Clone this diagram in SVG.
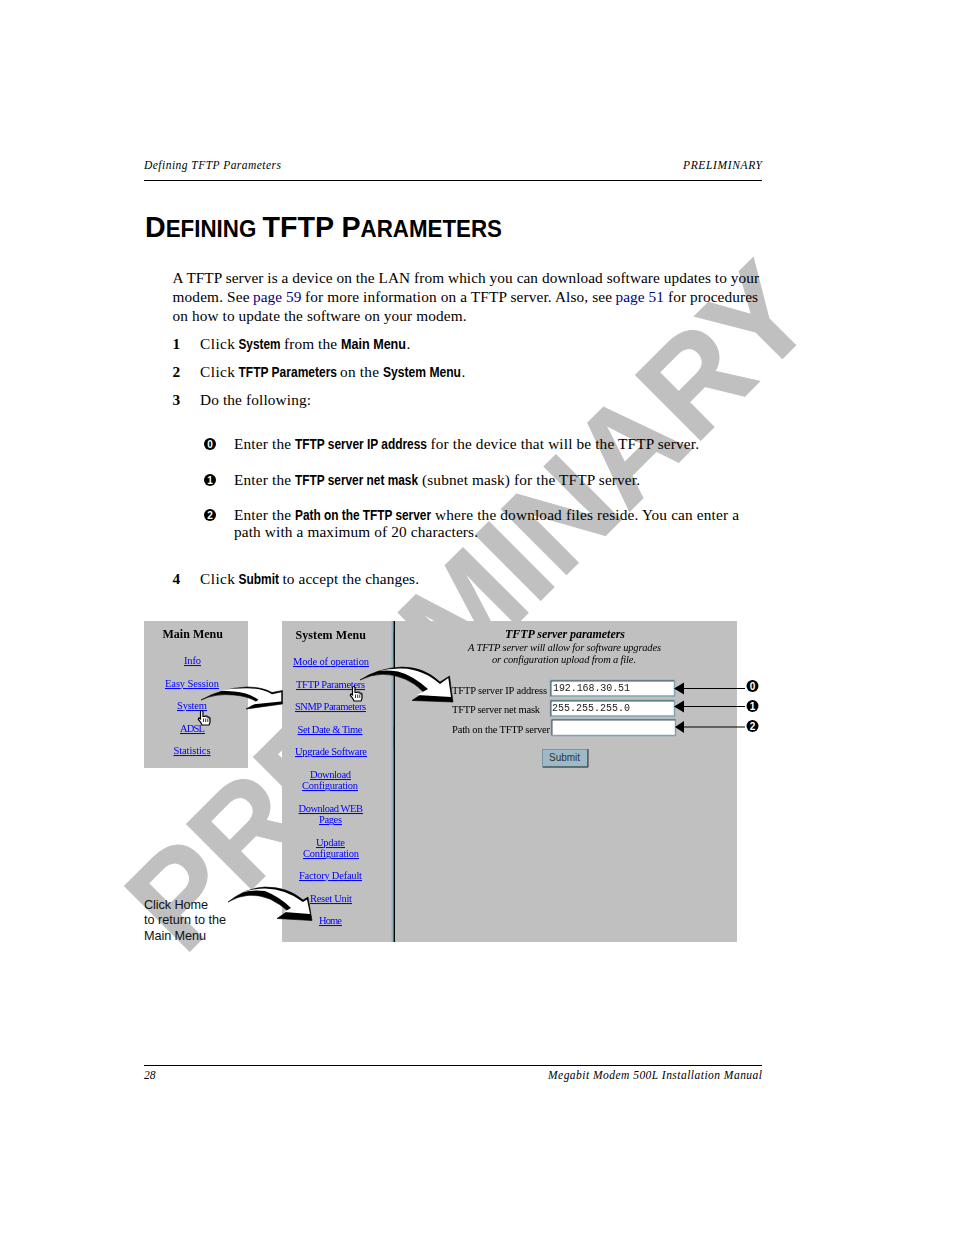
<svg xmlns="http://www.w3.org/2000/svg" width="954" height="1235" viewBox="0 0 954 1235">
<style>
text{white-space:pre}
.b{font:15.3px "Liberation Serif",serif;fill:#000}
.bn{font:bold 15.3px "Liberation Serif",serif;fill:#000}
.n{font:bold 11.200px "Liberation Sans",sans-serif;fill:#000}
.i{font:italic 11.5px "Liberation Serif",serif;fill:#000}
.h{font-family:"Liberation Sans",sans-serif;font-weight:bold;fill:#000}
.l{font:10.500px "Liberation Serif",serif;fill:#00f;text-decoration:underline}
.s{font:10.500px "Liberation Serif",serif;fill:#000}
.sh{font:bold 12px "Liberation Serif",serif;fill:#000}
.si{font:italic 10.500px "Liberation Serif",serif;fill:#000}
.sih{font:italic bold 12px "Liberation Serif",serif;fill:#000}
.m{font:10px "Liberation Mono",monospace;fill:#222}
.c{font:12.700px "Liberation Sans",sans-serif;fill:#111}
.d{fill:#000}
.dt{font:bold 10px "Liberation Sans",sans-serif;fill:#fff;text-anchor:middle}
.p{fill:#c0c0c0}
.f{fill:#fff;stroke:#7fa5b5;stroke-width:1.5}
</style>
<defs>
<filter id="soft" x="-5%" y="-5%" width="110%" height="110%"><feGaussianBlur stdDeviation="0.3"/></filter>
<g id="hand">
<path d="M3 1.500Q3 0 4.200 0T5.500 1.500V6H7.500V5.500H9.500V6.500H11.500V7.500H12.500V12L11.500 14.500H4.500L3 11.500L.8 9 1.500 7.500 3 8.500Z" fill="#fff" stroke="#000" stroke-width="1.200"/>
<path d="M6 8V11.500M8.200 8V11.500M10.300 8V11.500" stroke="#000" stroke-width=".8" fill="none"/>
</g>
</defs>
<rect width="954" height="1235" fill="#fff"/>
<g id="watermark"><text transform="translate(183.600 957.400) rotate(-45)" font-family="Liberation Sans, sans-serif" font-weight="bold" font-size="134" fill="#c0c0c0" stroke="#c0c0c0" stroke-width="1" textLength="900" lengthAdjust="spacingAndGlyphs">PRELIMINARY</text></g>
<g id="page-header">
<text class="i" x="144" y="169" textLength="137">Defining TFTP Parameters</text>
<text class="i" x="683" y="169" textLength="79">PRELIMINARY</text>
<rect x="144" y="180" width="618" height="1"/>
</g>
<g id="title"><text class="h" x="145" y="237" font-size="23" textLength="357" lengthAdjust="spacingAndGlyphs"><tspan font-size="29.500">D</tspan>EFINING <tspan font-size="29.500">TFTP P</tspan>ARAMETERS</text></g>
<g id="body">
<text class="b" x="172.500" y="283" textLength="586.500">A TFTP server is a device on the LAN from which you can download software updates to your</text>
<text class="b" x="172.500" y="302" textLength="77">modem. See</text>
<text class="b" x="253" y="302" textLength="48.500" style="fill:#000080">page 59</text>
<text class="b" x="305" y="302" textLength="307">for more information on a TFTP server. Also, see</text>
<text class="b" x="615.500" y="302" textLength="48.500" style="fill:#000080">page 51</text>
<text class="b" x="668" y="302" textLength="90">for procedures</text>
<text class="b" x="172.500" y="321" textLength="294">on how to update the software on your modem.</text>
<text class="bn" x="172.500" y="349">1</text>
<text class="b" x="200" y="349" textLength="35">Click</text>
<text class="n" transform="translate(238.500 349) scale(1 1.3)" textLength="42" lengthAdjust="spacingAndGlyphs">System</text>
<text class="b" x="284" y="349" textLength="53">from the</text>
<text class="n" transform="translate(341 349) scale(1 1.3)" textLength="65" lengthAdjust="spacingAndGlyphs">Main Menu</text>
<text class="b" x="406.500" y="349">.</text>
<text class="bn" x="172.500" y="377">2</text>
<text class="b" x="200" y="377" textLength="35">Click</text>
<text class="n" transform="translate(238.500 377) scale(1 1.3)" textLength="98.500" lengthAdjust="spacingAndGlyphs">TFTP Parameters</text>
<text class="b" x="340" y="377" textLength="39">on the</text>
<text class="n" transform="translate(383 377) scale(1 1.3)" textLength="78" lengthAdjust="spacingAndGlyphs">System Menu</text>
<text class="b" x="461.500" y="377">.</text>
<text class="bn" x="172.500" y="405">3</text>
<text class="b" x="200" y="405" textLength="111">Do the following:</text>
<circle class="d" cx="210" cy="444" r="6"/><text class="dt" x="210" y="447.500">0</text>
<text class="b" x="234" y="449" textLength="57">Enter the</text>
<text class="n" transform="translate(295 449) scale(1 1.3)" textLength="132" lengthAdjust="spacingAndGlyphs">TFTP server IP address</text>
<text class="b" x="430.500" y="449" textLength="268.500">for the device that will be the TFTP server.</text>
<circle class="d" cx="210" cy="480" r="6"/><text class="dt" x="210" y="483.500">1</text>
<text class="b" x="234" y="485" textLength="57">Enter the</text>
<text class="n" transform="translate(295 485) scale(1 1.3)" textLength="123" lengthAdjust="spacingAndGlyphs">TFTP server net mask</text>
<text class="b" x="422" y="485" textLength="218">(subnet mask) for the TFTP server.</text>
<circle class="d" cx="210" cy="515" r="6"/><text class="dt" x="210" y="518.500">2</text>
<text class="b" x="234" y="520" textLength="57">Enter the</text>
<text class="n" transform="translate(295 520) scale(1 1.3)" textLength="136" lengthAdjust="spacingAndGlyphs">Path on the TFTP server</text>
<text class="b" x="435" y="520" textLength="304">where the download files reside. You can enter a</text>
<text class="b" x="234" y="537" textLength="244">path with a maximum of 20 characters.</text>
<text class="bn" x="172.500" y="584">4</text>
<text class="b" x="200" y="584" textLength="35">Click</text>
<text class="n" transform="translate(238.500 584) scale(1 1.3)" textLength="40.500" lengthAdjust="spacingAndGlyphs">Submit</text>
<text class="b" x="282.500" y="584" textLength="136.500">to accept the changes.</text>
</g>
<g id="main-menu">
<rect class="p" x="144" y="621" width="104" height="147"/>
<g filter="url(#soft)">
<text class="sh" x="162.500" y="638" textLength="60.500">Main Menu</text>
<text class="l" x="184" y="664" textLength="17">Info</text>
<text class="l" x="165" y="687" textLength="54">Easy Session</text>
<text class="l" x="177" y="709" textLength="30">System</text>
<text class="l" x="180" y="732" textLength="25">ADSL</text>
<text class="l" x="173.500" y="754" textLength="37">Statistics</text>
</g>
</g>
<g id="system-menu">
<rect class="p" x="282" y="621" width="110" height="321"/>
<g filter="url(#soft)">
<text class="sh" x="295.500" y="639" textLength="70.500">System Menu</text>
<text class="l" x="293" y="665" textLength="76">Mode of operation</text>
<text class="l" x="296" y="688" textLength="69">TFTP Parameters</text>
<text class="l" x="295" y="710" textLength="71">SNMP Parameters</text>
<text class="l" x="297.500" y="733" textLength="65">Set Date &amp; Time</text>
<text class="l" x="295" y="755" textLength="72">Upgrade Software</text>
<text class="l" x="310" y="778" textLength="41">Download</text>
<text class="l" x="302" y="789" textLength="56">Configuration</text>
<text class="l" x="298.500" y="812" textLength="64.500">Download WEB</text>
<text class="l" x="319" y="823" textLength="23">Pages</text>
<text class="l" x="316" y="846" textLength="29">Update</text>
<text class="l" x="303" y="857" textLength="56">Configuration</text>
<text class="l" x="299" y="879" textLength="63">Factory Default</text>
<text class="l" x="310" y="902" textLength="42">Reset Unit</text>
<text class="l" x="319" y="924" textLength="23">Home</text>
</g>
</g>
<g id="tftp-panel">
<rect class="p" x="395" y="621" width="342" height="321"/>
<rect x="391.500" y="621" width="2" height="321" fill="#8fb5c5"/>
<rect x="393.500" y="621" width="1.500" height="321" fill="#000"/>
<g filter="url(#soft)">
<text class="sih" x="505" y="638" textLength="120">TFTP server parameters</text>
<text class="si" x="468" y="651" textLength="193">A TFTP server will allow for software upgrades</text>
<text class="si" x="492" y="663" textLength="144">or configuration upload from a file.</text>
<text class="s" x="452" y="694" textLength="95">TFTP server IP address</text>
<text class="s" x="452" y="713" textLength="88">TFTP server net mask</text>
<text class="s" x="452" y="733" textLength="98">Path on the TFTP server</text>
</g>
<rect class="f" x="550.500" y="680.500" width="124" height="15.500"/>
<rect class="f" x="550.500" y="700.500" width="124" height="15.500"/>
<rect class="f" x="551.500" y="719.500" width="124" height="16"/>
<path d="M551 696V681H674M551 716V701H674M552 735V720H675" fill="none" stroke="#333" stroke-width=".7"/>
<text class="m" x="553" y="691" textLength="77" filter="url(#soft)">192.168.30.51</text>
<text class="m" x="552" y="711" textLength="78" filter="url(#soft)">255.255.255.0</text>
<g id="submit-button">
<rect x="542.500" y="749.500" width="45" height="17.500" fill="#9dbac8" stroke="#7795a3"/>
<path d="M543 767H588V749" fill="none" stroke="#333" stroke-width="1"/>
<text x="549" y="761" font-family="Liberation Sans, sans-serif" font-size="10" fill="#333" textLength="31">Submit</text>
</g>
</g>
<g id="callout-text">
<text class="c" x="144" y="909" textLength="64">Click Home</text>
<text class="c" x="144" y="924" textLength="82">to return to the</text>
<text class="c" x="144" y="940" textLength="62">Main Menu</text>
</g>
<g id="connectors">
<g id="curved-arrows" stroke="#000" stroke-width=".6">
<path fill="#000" d="M201 700Q222 688 247 687Q262 687 272 692.500L282.500 690.500V704L246 709 258 702.500Q248 696 234 695Q216 693 201 700Z"/>
<path fill="#fff" stroke="none" d="M220 690.500Q232 688.200 247 688.200Q262 688.200 272 694.200L281.300 692.200V701.500L252 704.500 258.500 699.800Q248 692.500 234 691.500Q226 690.800 220 690.500Z"/>
<path fill="#000" d="M360 680Q378 668 402 667Q424 667 440 682L449.500 676 453 702 412 700.500 424 692.500Q415 683 405 679Q382 669 360 680Z"/>
<path fill="#fff" stroke="none" d="M378 671Q390 668.200 402 668.500Q423 669 440 684L448.300 678 451 697 417 695 428 689Q412 675 398 671.500Q388 670 378 671Z"/>
<path fill="#000" d="M228 902Q245 888 265 887Q288 887 303 900L308 897 312 920.500 277 918.500 288 911Q280 904 270 899Q248 890 228 902Z"/>
<path fill="#fff" stroke="none" d="M243 892Q254 888.500 265 888.500Q286 889 303 902L307 899.500 310 914 284 912 291 908Q280 897 265 891Q254 889.500 243 892Z"/>
</g>
<g id="hands">
<use href="#hand" x="197.500" y="710.500"/>
<use href="#hand" x="349.500" y="686.500"/>
</g>
<g id="callout-arrows">
<path d="M684 688.500H745M684 706.500H745M684 727H745" stroke="#000" stroke-width="1" fill="none"/>
<path class="d" d="M674 688.500 684 682.500V694.500ZM674 706.500 684 700.500V712.500ZM675 727 684 721V733Z"/>
</g>
</g>
<g id="callout-badges">
<circle class="d" cx="752.500" cy="686" r="6"/><text class="dt" x="752.500" y="689.500">0</text>
<circle class="d" cx="752.500" cy="706" r="6"/><text class="dt" x="752.500" y="709.500">1</text>
<circle class="d" cx="752.500" cy="726" r="6"/><text class="dt" x="752.500" y="729.500">2</text>
</g>
<g id="page-footer">
<rect x="144" y="1065" width="618" height="1"/>
<text class="i" x="144" y="1079">28</text>
<text class="i" x="548" y="1079" textLength="214">Megabit Modem 500L Installation Manual</text>
</g>
</svg>
